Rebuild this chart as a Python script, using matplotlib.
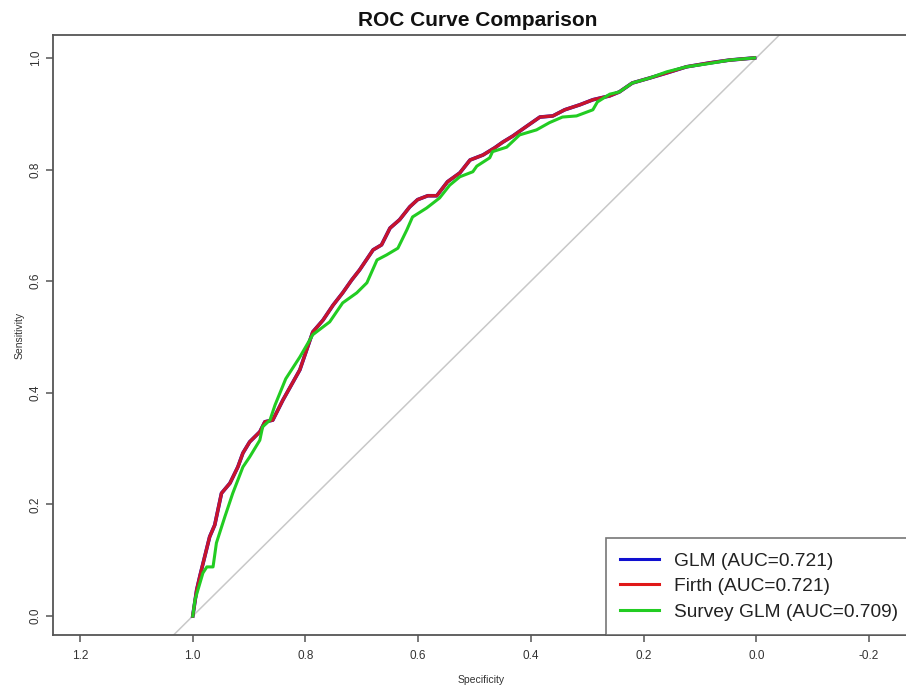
#!/usr/bin/env python3
"""Recreate the ROC curve comparison chart (GLM, Firth, survey GLM)."""

import matplotlib

matplotlib.use("Agg")
import matplotlib.pyplot as plt
from matplotlib.lines import Line2D

plt.rcParams["font.family"] = ["Liberation Sans", "DejaVu Sans"]

# ROC points (specificity, sensitivity)
firth_spec = [1.0, 0.993, 0.987, 0.970, 0.961, 0.949, 0.934, 0.920, 0.911, 0.899,
              0.881, 0.872, 0.858, 0.840, 0.810, 0.787, 0.769, 0.751, 0.734, 0.718,
              0.704, 0.680, 0.665, 0.650, 0.633, 0.615, 0.601, 0.583, 0.567, 0.548,
              0.526, 0.508, 0.485, 0.464, 0.450, 0.432, 0.411, 0.384, 0.361, 0.340,
              0.313, 0.290, 0.260, 0.243, 0.220, 0.189, 0.159, 0.124, 0.083, 0.048,
              0.003]
firth_sens = [0.0, 0.047, 0.073, 0.142, 0.163, 0.220, 0.238, 0.267, 0.292, 0.312,
              0.330, 0.348, 0.351, 0.387, 0.441, 0.509, 0.530, 0.557, 0.579, 0.602,
              0.620, 0.656, 0.665, 0.695, 0.710, 0.733, 0.746, 0.753, 0.753, 0.778,
              0.794, 0.817, 0.826, 0.839, 0.849, 0.860, 0.875, 0.894, 0.896, 0.907,
              0.916, 0.925, 0.932, 0.939, 0.955, 0.964, 0.973, 0.984, 0.991, 0.996,
              1.0]
# the plain GLM curve sits right under the Firth one
glm_spec = firth_spec
glm_sens = firth_sens

survey_spec = [1.0, 0.996, 0.982, 0.975, 0.964, 0.958, 0.943, 0.929, 0.911, 0.899,
               0.881, 0.876, 0.863, 0.854, 0.835, 0.810, 0.787, 0.757, 0.734, 0.709,
               0.691, 0.673, 0.656, 0.636, 0.620, 0.610, 0.585, 0.562, 0.544, 0.526,
               0.503, 0.496, 0.473, 0.468, 0.443, 0.420, 0.390, 0.367, 0.344, 0.319,
               0.290, 0.282, 0.260, 0.243, 0.220, 0.189, 0.159, 0.124, 0.083, 0.048,
               0.003]
survey_sens = [0.0, 0.029, 0.077, 0.088, 0.088, 0.131, 0.178, 0.220, 0.267, 0.285,
               0.315, 0.339, 0.351, 0.378, 0.425, 0.464, 0.504, 0.527, 0.561, 0.579,
               0.597, 0.638, 0.647, 0.659, 0.692, 0.715, 0.731, 0.749, 0.772, 0.787,
               0.796, 0.806, 0.821, 0.832, 0.840, 0.862, 0.871, 0.884, 0.894, 0.896,
               0.907, 0.921, 0.935, 0.939, 0.955, 0.964, 0.975, 0.984, 0.990, 0.996,
               1.0]

labels = ["GLM (AUC=0.721)", "Firth (AUC=0.721)", "Survey GLM (AUC=0.709)"]
colors = ["#1010d0", "#e01818", "#22cc22"]

x_ticks = [1.2, 1.0, 0.8, 0.6, 0.4, 0.2, 0.0, -0.2]
y_ticks = [0.0, 0.2, 0.4, 0.6, 0.8, 1.0]


def main() -> None:
    fig = plt.figure(figsize=(9.06, 6.87), dpi=100)
    # plot region runs off the right edge of the picture, as in the reference
    ax = fig.add_axes([53 / 906, 52 / 687, 856 / 906, 600 / 687])
    ax.set_xlim(1.248, -0.271)
    ax.set_ylim(-0.034, 1.041)

    ax.plot([1.2, -0.2], [-0.2, 1.2], color="#c8c8c8", linewidth=1.1, zorder=1)

    ax.plot(glm_spec, glm_sens, color=colors[0], linewidth=2.6, zorder=2)
    ax.plot(firth_spec, firth_sens, color="#c8142c", linewidth=2.4, zorder=3)
    ax.plot(survey_spec, survey_sens, color=colors[2], linewidth=2.2, zorder=4)

    for side in ("top", "bottom", "left", "right"):
        ax.spines[side].set_color("#555555")
        ax.spines[side].set_linewidth(1.3)

    ax.set_xticks(x_ticks)
    ax.set_xticklabels([f"{t:.1f}" for t in x_ticks])
    ax.set_yticks(y_ticks)
    ax.set_yticklabels([f"{t:.1f}" for t in y_ticks], rotation=90, va="center")
    ax.tick_params(axis="both", length=5, width=1.1, color="#555555",
                   labelsize=8.5, labelcolor="#333333", pad=6)
    ax.tick_params(axis="y", pad=3)

    ax.set_xlabel("Specificity", fontsize=7.5, color="#333333", labelpad=9)
    ax.set_ylabel("Sensitivity", fontsize=7.5, color="#333333", labelpad=4)

    fig.text(478 / 906, 1 - 21 / 687, "ROC Curve Comparison", ha="center", va="center",
             fontsize=15, fontweight="bold", color="#111111")

    handles = [Line2D([], [], color=c, linewidth=2.2) for c in colors]
    leg = fig.legend(handles, labels, loc="lower left",
                     bbox_to_anchor=(606 / 906, 52 / 687),
                     fontsize=13.8, frameon=True, fancybox=False,
                     handlelength=2.0, handletextpad=0.8, labelspacing=0.42,
                     borderpad=0.75, borderaxespad=0)
    leg.get_frame().set_edgecolor("#555555")
    leg.get_frame().set_linewidth(1.2)
    for text in leg.get_texts():
        text.set_color("#222222")

    fig.savefig("out.png", dpi=100)
    plt.close(fig)


if __name__ == "__main__":
    main()
